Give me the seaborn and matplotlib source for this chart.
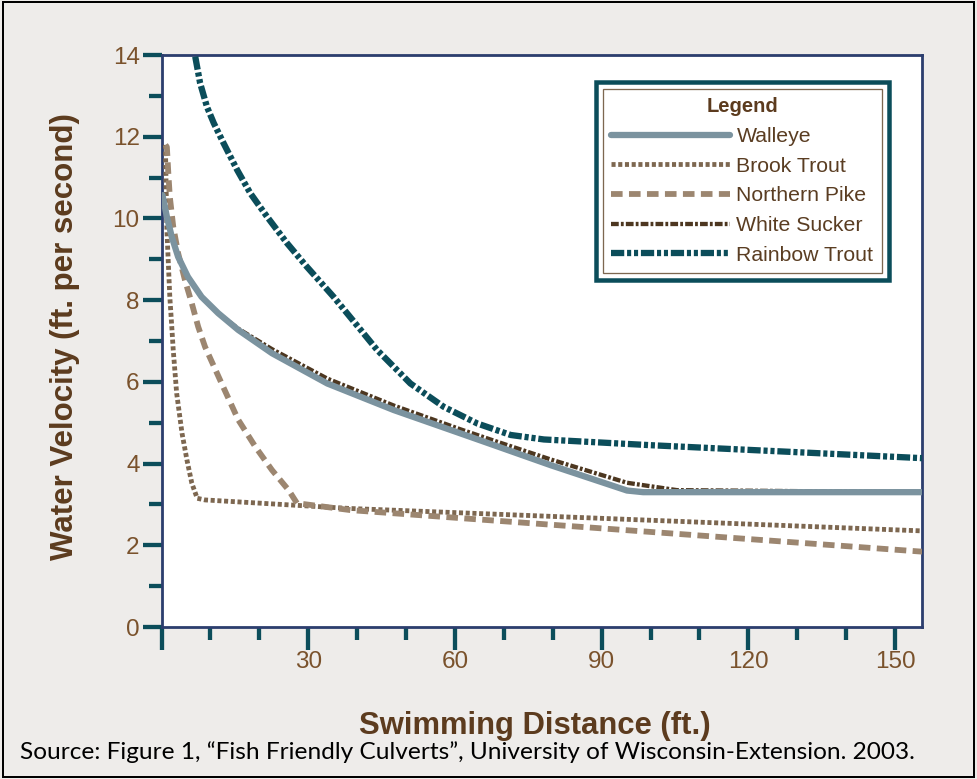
import matplotlib
matplotlib.use("Agg")
import matplotlib.pyplot as plt
from matplotlib.patches import Rectangle
from matplotlib.ticker import MultipleLocator, FixedLocator
import seaborn as sns

# ---------------- data ----------------
walleye_x = [0.2, 1.1, 2.1, 3.4, 5.4, 8.2, 11.6, 15.7, 22.6, 33.9, 47.5, 61.1, 68.0, 79.6, 95.2, 98.5, 156.0]
walleye_y = [10.57, 10.04, 9.55, 9.06, 8.57, 8.08, 7.68, 7.27, 6.70, 5.96, 5.31, 4.74, 4.45, 3.96, 3.34, 3.30, 3.30]

brook_x = [0.8, 1.1, 1.4, 1.7, 2.1, 2.4, 3.1, 4.2, 5.2, 6.2, 7.3, 8.9, 38.7, 156.0]
brook_y = [11.8, 9.72, 8.90, 8.08, 7.35, 6.78, 5.72, 4.74, 4.09, 3.52, 3.15, 3.11, 2.90, 2.35]

pike_x = [0.8, 1.1, 1.4, 1.7, 2.4, 3.4, 4.8, 6.2, 7.5, 8.9, 12.3, 15.7, 19.2, 22.6, 26.0, 27.7, 38.7, 156.0]
pike_y = [11.8, 11.75, 11.1, 10.53, 9.80, 9.15, 8.49, 7.92, 7.35, 6.86, 5.96, 5.07, 4.41, 3.84, 3.35, 3.03, 2.86, 1.84]

sucker_x = [0.2, 1.1, 2.1, 3.4, 5.4, 8.2, 11.6, 15.7, 22.6, 33.9, 47.5, 61.1, 68.0, 79.6, 95.2, 105.4, 156.0]
sucker_y = [10.57, 10.04, 9.55, 9.06, 8.57, 8.08, 7.68, 7.30, 6.80, 6.08, 5.42, 4.84, 4.56, 4.10, 3.53, 3.35, 3.30]

rainbow_x = [6.9, 7.9, 9.3, 10.7, 12.7, 15.5, 18.2, 21.6, 25.7, 29.7, 35.2, 44.1, 50.9, 57.7, 64.6, 71.4, 78.2, 100.0, 156.0]
rainbow_y = [13.96, 13.31, 12.73, 12.33, 11.84, 11.18, 10.61, 10.04, 9.39, 8.82, 8.08, 6.78, 5.96, 5.39, 4.98, 4.70, 4.59, 4.45, 4.13]

x_major = [0, 30, 60, 90, 120, 150]
x_major_labels = ["", "30", "60", "90", "120", "150"]
y_major = [0, 2, 4, 6, 8, 10, 12, 14]

# ---------------- styling ----------------
BG = "#eeecea"
TEAL = "#0b4d5a"
NAVY = "#2c3e6e"
TICKLAB = "#7a522c"
LABEL = "#5c3b1e"

sns.set_theme(style="white")
plt.rcParams["font.family"] = ["Liberation Sans", "DejaVu Sans"]

W, H, DPI = 977, 779, 100
fig = plt.figure(figsize=(W / DPI, H / DPI), dpi=DPI, facecolor=BG)
L, R, T, B = 161.5, 922, 55, 627
ax = fig.add_axes([L / W, 1 - B / H, (R - L) / W, (B - T) / H])
ax.set_facecolor("white")

px = 72 / DPI  # points per pixel

series = [
    ("Walleye", walleye_x, walleye_y, "#7b939f", 6.3, "-", 3.2),
    ("Brook Trout", brook_x, brook_y, "#7d6750", 4.8, (0, (0.85, 0.55)), 3),
    ("Northern Pike", pike_x, pike_y, "#9c8670", 5.8, (0, (2.0, 1.1)), 3),
    ("White Sucker", sucker_x, sucker_y, "#4d3720", 4.3, (0, (1.8, 0.5, 0.65, 0.5)), 3),
    ("Rainbow Trout", rainbow_x, rainbow_y, TEAL, 6.3, (0, (2.1, 0.45, 0.65, 0.45, 0.65, 0.45)), 3.3),
]
for name, xs, ys, col, lw, ls, z in series:
    sns.lineplot(x=xs, y=ys, ax=ax, color=col, linewidth=lw * px, linestyle=ls,
                 label=name, sort=False, estimator=None,
                 solid_joinstyle="round", zorder=z)

ax.set_xlim(0, (R - L) / 4.89)
ax.set_ylim(0, 14)

for s in ax.spines.values():
    s.set_visible(True)
    s.set_color(NAVY)
    s.set_linewidth(2.8 * px)

ax.xaxis.set_major_locator(FixedLocator(x_major))
ax.set_xticklabels(x_major_labels)
ax.xaxis.set_minor_locator(MultipleLocator(10))
ax.yaxis.set_major_locator(FixedLocator(y_major))
ax.yaxis.set_minor_locator(MultipleLocator(1))

ax.tick_params(axis="both", which="major", direction="out", color=TEAL,
               width=4.3 * px, labelsize=17.5, labelcolor=TICKLAB)
ax.tick_params(axis="x", which="major", length=23 * px, pad=1)
ax.tick_params(axis="y", which="major", length=19 * px, pad=2)
ax.tick_params(axis="both", which="minor", direction="out", color=TEAL,
               width=4.3 * px, length=13 * px)
ax.tick_params(bottom=True, left=True, which="both")

ax.set_xlabel("Swimming Distance (ft.)", fontsize=22.3, fontweight="bold",
              color=LABEL, va="center")
ax.xaxis.set_label_coords((534.5 - L) / (R - L), (B - 726) / (B - T))
ax.set_ylabel("Water Velocity (ft. per second)", fontsize=22.5, fontweight="bold",
              color=LABEL, va="center")
ax.yaxis.set_label_coords((65 - L) / (R - L), (B - 336.5) / (B - T))

# legend
order = ["Walleye", "Brook Trout", "Northern Pike", "White Sucker", "Rainbow Trout"]
h, lab = ax.get_legend_handles_labels()
hm = dict(zip(lab, h))
leg = ax.legend([hm[k] for k in order], order, title="Legend",
                loc="upper right",
                bbox_to_anchor=((882 - L) / (R - L), (B - 89) / (B - T)),
                borderaxespad=0, frameon=True, fancybox=False,
                fontsize=15.3, title_fontsize=14.5, handlelength=5.6,
                handletextpad=0.3, labelspacing=0.5, borderpad=0.4)
leg.get_title().set_fontweight("bold")
leg.get_title().set_color(LABEL)
for t in leg.get_texts():
    t.set_color("#5a3d22")
fr = leg.get_frame()
fr.set_edgecolor("#7d6750")
fr.set_linewidth(1.3 * px)
fr.set_facecolor("white")
fr.set_alpha(1)
leg.set_zorder(10)

fig.canvas.draw()
bb = leg.get_window_extent()
pad = 7
rect = Rectangle((bb.x0 - pad, bb.y0 - pad), bb.width + 2 * pad, bb.height + 2 * pad,
                 transform=None, fill=False, edgecolor=TEAL, linewidth=4.5 * px, zorder=11)
fig.add_artist(rect)

fig.text(20 / W, 1 - 752 / H,
         "Source: Figure 1, \u201cFish Friendly Culverts\u201d, University of Wisconsin-Extension. 2003.",
         fontsize=17.6, family=["Lato", "DejaVu Sans"], color="black", va="center", ha="left")

fig.add_artist(Rectangle((3 / W, 2 / H), 1 - 6 / W, 1 - 4 / H, transform=fig.transFigure,
                         fill=False, edgecolor="black", linewidth=2 * px))

fig.savefig("out.png", dpi=DPI, facecolor=BG)
